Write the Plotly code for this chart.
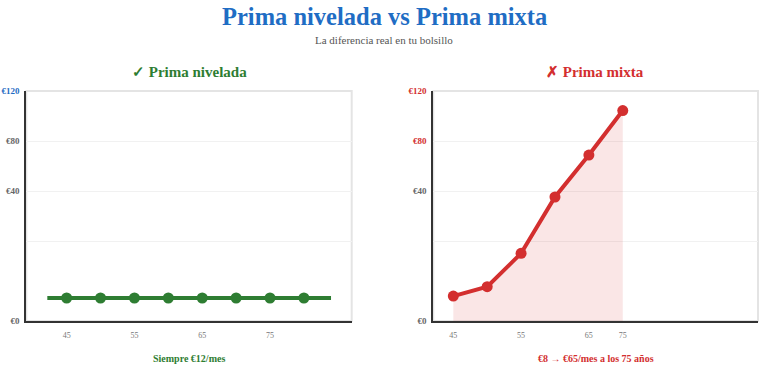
import plotly.graph_objects as go

# ---- data ----
nivelada_ages = [45, 50, 55, 60, 65, 70, 75, 80]
nivelada_values = [12, 12, 12, 12, 12, 12, 12, 12]
nivelada_tick_labels = ["45", "", "55", "", "65", "", "75", ""]

mixta_ages = [45, 50, 55, 60, 65, 75]
mixta_values = [13.0, 17.9, 35.3, 64.7, 86.6, 109.8]
mixta_tick_labels = ["45", "", "55", "", "65", "75"]

title_text = "Prima nivelada vs Prima mixta"
subtitle_text = "La diferencia real en tu bolsillo"
left_title = "✓ Prima nivelada"
right_title = "✗ Prima mixta"
left_note = "Siempre €12/mes"
right_note = "€8 → €65/mes a los 75 años"

BLUE = "#1f6dc4"
GREEN = "#2e7d32"
RED = "#d32f2f"
GRAY = "#666666"
FONT = "Liberation Serif"
W, H = 768, 381

# y tick positions (as drawn in the reference)
ytick_vals = [0, 41.7, 67.8, 93.9, 120]

def ytick_text(top_color, mid_color):
    return [
        f"<span style='color:{GRAY}'>€0</span>",
        "",
        f"<span style='color:{GRAY}'>€40</span>",
        f"<span style='color:{mid_color}'>€80</span>",
        f"<span style='color:{top_color}'>€120</span>",
    ]

fig = go.Figure()

nx = list(range(len(nivelada_ages)))
mx = list(range(len(mixta_ages)))

# level line (extends beyond the markers)
fig.add_trace(go.Scatter(
    x=[nx[0] - 0.57, nx[-1] + 0.8], y=[nivelada_values[0], nivelada_values[-1]],
    mode="lines", line=dict(color=GREEN, width=4),
    xaxis="x", yaxis="y", hoverinfo="skip", showlegend=False,
))
fig.add_trace(go.Scatter(
    x=nx, y=nivelada_values, mode="markers",
    marker=dict(color=GREEN, size=11),
    xaxis="x", yaxis="y", hoverinfo="skip", showlegend=False,
))

fig.add_trace(go.Scatter(
    x=mx, y=mixta_values, mode="lines+markers",
    line=dict(color=RED, width=4),
    marker=dict(color=RED, size=11),
    fill="tozeroy", fillcolor="rgba(211,47,47,0.12)",
    xaxis="x2", yaxis="y2", hoverinfo="skip", showlegend=False,
))

axis_common = dict(showgrid=False, zeroline=False, showline=True,
                   linecolor="#333333", linewidth=2, ticks="",
                   tickfont=dict(family=FONT, size=8, color="#777777"),
                   ticklabelstandoff=5, fixedrange=True, automargin=False)
yaxis_common = dict(range=[0, 120], tickvals=ytick_vals, showgrid=True,
                    gridcolor="#f1f1f1", gridwidth=1, zeroline=False,
                    showline=True, linecolor="#333333", linewidth=2, ticks="",
                    tickfont=dict(family=FONT, size=9, color=GRAY, weight="bold"),
                    ticklabelstandoff=3, fixedrange=True, automargin=False)

def px(x):
    return x / W

def py(y):
    return 1 - y / H

fig.update_layout(
    width=W, height=H,
    margin=dict(l=0, r=0, t=0, b=0, autoexpand=False),
    paper_bgcolor="white", plot_bgcolor="white",
    font=dict(family=FONT),
    xaxis=dict(domain=[px(26.3), px(351.7)], range=[-1.19, 8.41],
               tickvals=nx, ticktext=nivelada_tick_labels, anchor="y", **axis_common),
    yaxis=dict(domain=[py(321), py(91)], anchor="x",
               ticktext=ytick_text(BLUE, GRAY), **yaxis_common),
    xaxis2=dict(domain=[px(433.3), px(758)], range=[-0.59, 8.99],
                tickvals=mx, ticktext=mixta_tick_labels, anchor="y2", **axis_common),
    yaxis2=dict(domain=[py(321), py(91)], anchor="x2",
                ticktext=ytick_text(RED, RED), **yaxis_common),
    shapes=[
        dict(type="rect", xref="x domain", yref="y domain", x0=0, x1=1, y0=0, y1=1,
             line=dict(color="#e4e4e4", width=2), layer="below"),
        dict(type="rect", xref="x2 domain", yref="y2 domain", x0=0, x1=1, y0=0, y1=1,
             line=dict(color="#e4e4e4", width=2), layer="below"),
    ],
    annotations=[
        dict(text=f"<b>{title_text}</b>", x=0.5, y=py(16), xref="paper", yref="paper",
             showarrow=False, font=dict(family=FONT, size=24.5, color=BLUE),
             xanchor="center", yanchor="middle"),
        dict(text=subtitle_text, x=0.5, y=py(40), xref="paper", yref="paper",
             showarrow=False, font=dict(family=FONT, size=11, color="#555555"),
             xanchor="center", yanchor="middle"),
        dict(text=f"<b>{left_title}</b>", x=px(189), y=py(72), xref="paper", yref="paper",
             showarrow=False, font=dict(family=FONT, size=15, color=GREEN),
             xanchor="center", yanchor="middle"),
        dict(text=f"<b>{right_title}</b>", x=px(595), y=py(72), xref="paper", yref="paper",
             showarrow=False, font=dict(family=FONT, size=15, color=RED),
             xanchor="center", yanchor="middle"),
        dict(text=f"<b>{left_note}</b>", x=px(189), y=py(358), xref="paper", yref="paper",
             showarrow=False, font=dict(family=FONT, size=10, color=GREEN),
             xanchor="center", yanchor="middle"),
        dict(text=f"<b>{right_note}</b>", x=px(596), y=py(358), xref="paper", yref="paper",
             showarrow=False, font=dict(family=FONT, size=10, color=RED),
             xanchor="center", yanchor="middle"),
    ],
)

fig.write_html(
    "out.html",
    config={"displayModeBar": False, "staticPlot": True},
    post_script="document.body.style.margin='0';document.body.style.overflow='hidden';",
)
